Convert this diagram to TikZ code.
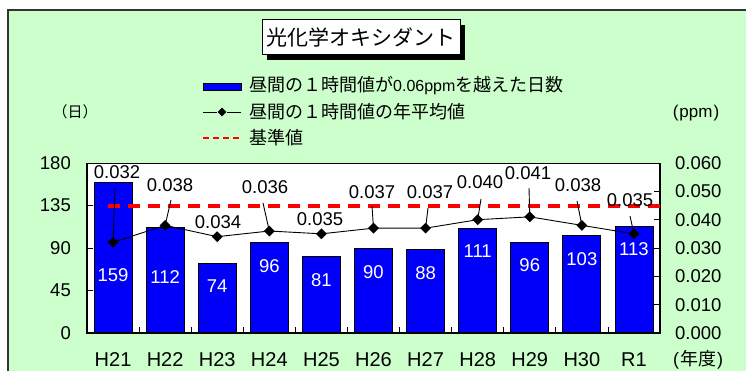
\documentclass[tikz,border=0pt]{standalone}
\usepackage{fontspec}
\setmainfont{Liberation Sans}
\newfontfamily\jp{Noto Sans CJK JP}
\usetikzlibrary{shapes.geometric}
\definecolor{bg}{RGB}{204,255,204}
\definecolor{barblue}{RGB}{0,0,250}
\definecolor{stdred}{RGB}{255,0,0}
\begin{document}
\begin{tikzpicture}[x=1pt,y=-1pt,
  dia/.style={diamond,fill=black,inner sep=0pt,minimum size=11pt},
  bar/.style={draw=black,line width=0.8pt,fill=barblue},
  val/.style={font=\fontsize{18.5}{18.5}\selectfont,inner sep=0pt},
  barval/.style={font=\fontsize{18.5}{18.5}\selectfont,text=white,inner sep=0pt},
  axl/.style={font=\fontsize{18.5}{18.5}\selectfont,inner sep=0pt},
  catl/.style={font=\fontsize{20}{20}\selectfont,inner sep=0pt},
  leg/.style={font=\jp\fontsize{18}{18}\selectfont,inner sep=0pt,anchor=west},
  stdline/.style={stdred,line width=3.5pt,dash pattern=on 12pt off 8pt},
  meanline/.style={black,line width=0.9pt},
  leader/.style={black,line width=0.9pt}
]
\useasboundingbox (0,0) rectangle (746,371);
\clip (0,0) rectangle (746,371);
\fill[white] (0,0) rectangle (746,371);
% panel
\draw[fill=bg,draw=black!80,line width=1.2pt] (8,10) rectangle (760,390);
% title
\fill[black] (267,25) rectangle (465,60);
\node[draw=black,line width=1pt,fill=white,minimum width=198pt,minimum height=35pt,inner sep=0pt,
  font=\jp\fontsize{21}{21}\selectfont] (title) at (361,37.5) {光化学オキシダント};
% legend
\draw[fill=barblue,draw=black,line width=0.8pt] (203,83) rectangle (241,90);
\node[leg] (leg1) at (249,86) {昼間の１時間値が{\rmfamily\fontsize{16}{16}\selectfont 0.06ppm}を越えた日数};
\coordinate (lgA) at (203,112);
\coordinate (lgB) at (241,112);
\node[dia,minimum size=9pt] (lgd) at (222,112) {};
\draw[meanline] (lgA) -- (lgd) -- (lgB);
\node[leg] (leg2) at (249,112) {昼間の１時間値の年平均値};
\coordinate (lgC) at (203,138);
\coordinate (lgD) at (241,138);
\draw[stdred,line width=1.5pt,dash pattern=on 6pt off 4pt] (lgC) -- (lgD);
\node[leg] (leg3) at (249,138) {基準値};
% unit labels
\node[inner sep=0pt,font=\jp\fontsize{15}{15}\selectfont] (uday) at (75,112) {（日）};
\node[inner sep=0pt,font=\fontsize{17}{17}\selectfont] (uppm) at (696,113) {(\hspace{1pt}ppm\hspace{1pt})};
% plot area
\fill[white] (87,163) rectangle (660,333);
\draw[black,line width=0.8pt] (87,163) -- (660,163);
% bars
\foreach \i/\v/\by in {0/159/275, 1/112/277, 2/74/286, 3/96/266, 4/81/280, 5/90/272, 6/88/273, 7/111/251, 8/96/265, 9/103/259, 10/113/249} {
  \pgfmathsetmacro\cx{87+52.09*(\i+0.5)}
  \pgfmathsetmacro\bt{333-\v/180*170}
  \draw[bar] (\cx-19,\bt) rectangle (\cx+19,333);
  \node[barval] (bv\i) at (\cx,\by) {\v};
}
% axes
\draw[black,line width=1.6pt] (87,163) -- (87,333) -- (660,333) -- (660,163);
\foreach \k in {1,2,3} \draw[black,line width=0.8pt] (87,{163+42.5*\k}) -- (93,{163+42.5*\k});
\foreach \k in {1,...,5} \draw[black,line width=0.8pt] (660,{163+28.333*\k}) -- (654,{163+28.333*\k});
\foreach \k in {1,...,10} \draw[black,line width=0.8pt] ({87+52.09*\k},333) -- ({87+52.09*\k},327);
% left axis labels
\foreach \k/\t in {0/180,1/135,2/90,3/45,4/0} \node[axl,anchor=east] (ly\k) at (71,{163+42.5*\k}) {\t};
% right axis labels
\foreach \k/\t in {0/0.060,1/0.050,2/0.040,3/0.030,4/0.020,5/0.010,6/0.000} \node[axl,anchor=west] (ry\k) at (675,{163+28.333*\k}) {\t};
% categories
\foreach \i/\t in {0/H21,1/H22,2/H23,3/H24,4/H25,5/H26,6/H27,7/H28,8/H29,9/H30,10/R1} {
  \pgfmathsetmacro\cx{87+52.09*(\i+0.5)}
  \node[catl] (c\i) at (\cx,360) {\t};
}
\node[inner sep=0pt,font=\fontsize{18}{18}\selectfont] (unen) at (698,360) {(\hspace{1pt}{\jp 年度}\hspace{1pt})};
% standard line
\coordinate (s0) at (108,206);
\coordinate (s1) at (660,206);
\draw[stdline] (s0) -- (s1);
% mean values
\foreach \i/\p in {0/0.032,1/0.038,2/0.034,3/0.036,4/0.035,5/0.037,6/0.037,7/0.040,8/0.041,9/0.038,10/0.035} {
  \pgfmathsetmacro\cx{87+52.09*(\i+0.5)}
  \pgfmathsetmacro\cy{333-\p/0.06*170}
  \node[dia] (d\i) at (\cx,\cy) {};
}
\draw[meanline] (d0.center) \foreach \i in {1,...,10} { -- (d\i.center) };
% value labels
\foreach \i/\t/\x/\y in {0/0.032/117/172, 1/0.038/170/185, 2/0.034/218/222, 3/0.036/265/187, 4/0.035/320/219, 5/0.037/372/192, 6/0.037/430/192, 7/0.040/480/182, 8/0.041/528/173, 9/0.038/578/185, 10/0.035/630/200} {
  \node[val] (l\i) at (\x,\y) {\t};
}
% leaders
\foreach \i/\x/\y in {0/115/188, 1/171/200, 3/263/203, 5/372/206, 6/428/208, 7/481/199, 8/529/188, 9/577/201, 10/630/216} {
  \coordinate (lt\i) at (\x,\y);
  \draw[leader] (lt\i) -- (d\i.center);
}
\end{tikzpicture}
\end{document}
